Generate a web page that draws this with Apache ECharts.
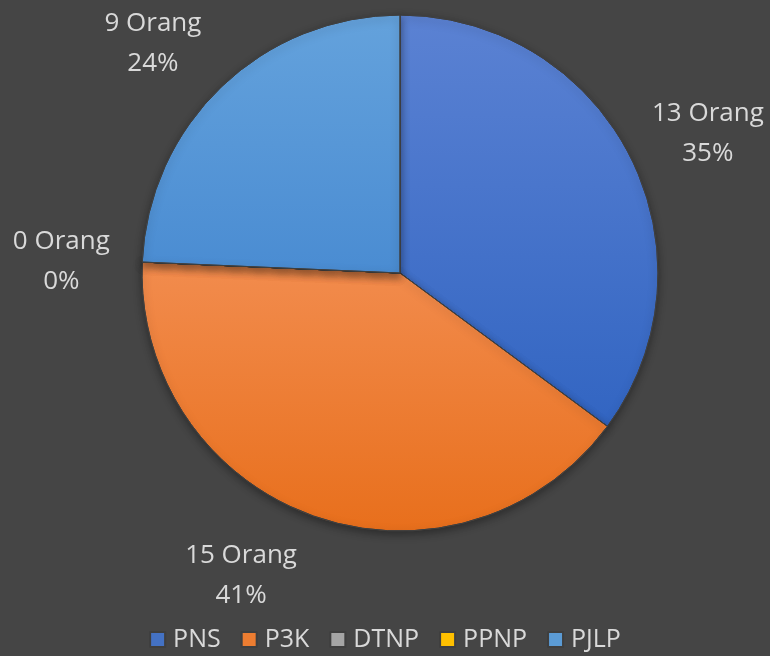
<!DOCTYPE html>
<html lang="id">
<head>
    <meta charset="UTF-8">
    <script type="text/javascript" src="https://cdn.jsdelivr.net/npm/echarts@6/dist/echarts.min.js"></script>
    <style>
        html, body { margin: 0; padding: 0; background: #454545; }
        #chart { width: 770px; height: 656px; }
    </style>
</head>
<body>
<div id="chart"></div>
<script>
    // data pegawai
    var categories = ['PNS', 'P3K', 'DTNP', 'PPNP', 'PJLP'];
    var values = [13, 15, 0, 0, 9];
    var legendColors = ['#4472c4', '#ed7d31', '#a5a5a5', '#ffc000', '#5b9bd5'];
    var topColors = ['#5b82d3', '#f28c4e', '#b0b0b0', '#ffc81a', '#64a2dc'];
    var bottomColors = ['#3265c2', '#e86f1c', '#979797', '#f5b800', '#4a8cd2'];
    var hiddenLabels = ['PPNP']; // sama posisi dengan DTNP

    // geser sudut label (derajat), mirip "best fit" di Excel
    var labelNudge = [2, 8.5, 0, 0, -3];
    var cx = 400, cy = 273, R = 258, labelR = 339;
    var total = values.reduce(function (a, b) { return a + b; }, 0);

    var pieData = categories.map(function (name, i) {
        return {
            name: name,
            value: values[i],
            label: {show: hiddenLabels.indexOf(name) < 0},
            itemStyle: {
                color: {
                    type: 'linear', x: 0, y: 0, x2: 0, y2: 1,
                    colorStops: [{offset: 0, color: topColors[i]}, {offset: 1, color: bottomColors[i]}]
                }
            }
        };
    });

    var myChart = echarts.init(document.getElementById('chart'));
    myChart.setOption({
        backgroundColor: '#454545',
        textStyle: {fontFamily: '"Open Sans", "Noto Sans", sans-serif'},
        legend: {
            top: 622,
            left: 'center',
            itemWidth: 15,
            itemHeight: 15,
            itemGap: 20,
            icon: 'rect',
            textStyle: {color: '#d9d9d9', fontSize: 25, padding: [0, 0, 0, 3]},
            data: categories.map(function (n, i) {
                return {name: n, itemStyle: {color: legendColors[i]}};
            })
        },
        series: [{
            type: 'pie',
            center: [cx, cy],
            radius: [0, R],
            startAngle: 90,
            clockwise: true,
            stillShowZeroSum: true,
            avoidLabelOverlap: false,
            data: pieData,
            itemStyle: {borderColor: '#3f3f3f', borderWidth: 1,
                shadowColor: 'rgba(0,0,0,0.35)', shadowBlur: 8, shadowOffsetY: 3},
            emphasis: {scale: false},
            label: {
                position: 'outside',
                color: '#d9d9d9',
                fontSize: 26,
                lineHeight: 40,
                align: 'center',
                formatter: function (p) {
                    return p.value + ' Orang\n' + Math.round(p.percent) + '%';
                }
            },
            labelLine: {show: false},
            labelLayout: function (params) {
                var i = params.dataIndex, before = 0;
                for (var k = 0; k < i; k++) before += values[k];
                var mid = (before + values[i] / 2) / total * 2 * Math.PI + labelNudge[i] * Math.PI / 180;
                return {
                    x: cx + labelR * Math.sin(mid),
                    y: cy + 3 - labelR * Math.cos(mid),
                    align: 'center',
                    verticalAlign: 'middle'
                };
            }
        }]
    });
</script>
</body>
</html>
